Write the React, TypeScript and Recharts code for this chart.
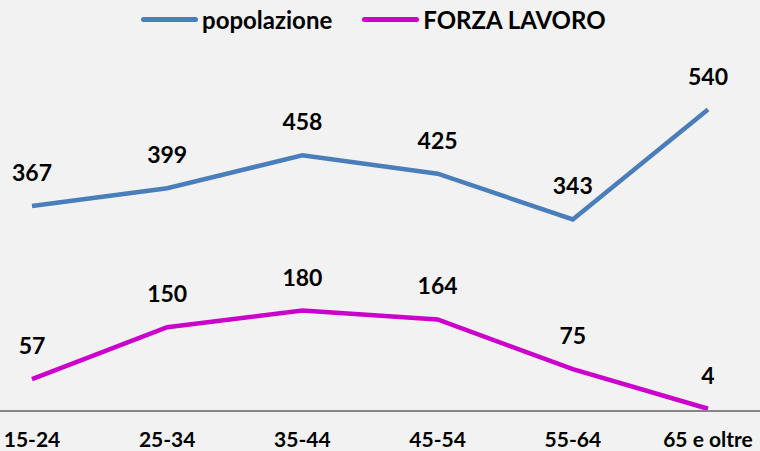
import { LineChart, Line, XAxis, YAxis, LabelList } from 'recharts'

const categories = ['15-24', '25-34', '35-44', '45-54', '55-64', '65 e oltre']
const popolazione = [367, 399, 458, 425, 343, 540]
const forzaLavoro = [57, 150, 180, 164, 75, 4]

const BLUE = '#4a7ebb'
const MAGENTA = '#cc00cc'
const FONT = 'Lato, "Open Sans", sans-serif'

const data = categories.map((name, i) => ({
  name,
  popolazione: popolazione[i],
  forza: forzaLavoro[i],
}))

function LegendItem({ color, label }: { color: string; label: string }) {
  return (
    <div style={{ display: 'flex', alignItems: 'center', marginRight: 30 }}>
      <div style={{ width: 57, height: 5, borderRadius: 3, background: color }} />
      <span style={{ marginLeft: 4 }}>{label}</span>
    </div>
  )
}

export default function App() {
  const labelStyle = { fontSize: 23, fontWeight: 700, fill: '#000', fontFamily: FONT }
  return (
    <div
      style={{
        position: 'absolute',
        left: 0,
        top: 0,
        width: 760,
        height: 451,
        background: '#f2f2f2',
        fontFamily: FONT,
      }}
    >
      <div
        style={{
          position: 'absolute',
          top: 5,
          left: 141,
          display: 'flex',
          fontSize: 24,
          fontWeight: 700,
          color: '#000',
        }}
      >
        <LegendItem color={BLUE} label="popolazione" />
        <LegendItem color={MAGENTA} label="FORZA LAVORO" />
      </div>
      <LineChart
        width={760}
        height={451}
        data={data}
        margin={{ top: 76, right: 0, left: 0, bottom: 0 }}
      >
        <XAxis
          dataKey="name"
          scale="point"
          padding={{ left: 32, right: 52 }}
          height={40}
          axisLine={{ stroke: '#868686', strokeWidth: 2 }}
          tickLine={false}
          tickSize={0}
          tickMargin={21}
          interval={0}
          tick={{ fontSize: 21, fontWeight: 700, fill: '#000', fontFamily: FONT }}
        />
        <YAxis hide domain={[0, 600]} />
        <Line
          dataKey="popolazione"
          stroke={BLUE}
          strokeWidth={4.5}
          dot={false}
          isAnimationActive={false}
        >
          <LabelList dataKey="popolazione" position="top" offset={25} style={labelStyle} />
        </Line>
        <Line
          dataKey="forza"
          stroke={MAGENTA}
          strokeWidth={4.5}
          dot={false}
          isAnimationActive={false}
        >
          <LabelList dataKey="forza" position="top" offset={25} style={labelStyle} />
        </Line>
      </LineChart>
    </div>
  )
}
